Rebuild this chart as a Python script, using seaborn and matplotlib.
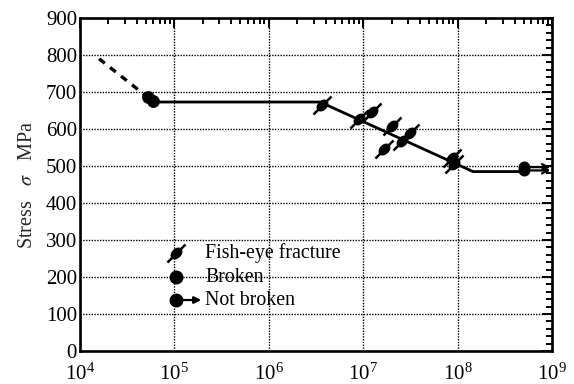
import numpy as np
import pandas as pd
import seaborn as sns
import matplotlib
matplotlib.use("Agg")
import matplotlib.pyplot as plt
from matplotlib.path import Path
from matplotlib.ticker import LogLocator, MultipleLocator, NullFormatter

# ---- data (cycles to failure N, stress in MPa) ----
dashed_N = [1.6e4, 5.0e4]
dashed_S = [790, 690]

curve_N = [7.0e4, 3.5e6, 1.45e8, 4.6e8]
curve_S = [673, 673, 485, 485]

fisheye_N = [3.7e6, 9.0e6, 1.25e7, 2.0e7, 1.65e7, 2.6e7, 3.1e7, 8.8e7, 9.2e7]
fisheye_S = [665, 627, 645, 608, 547, 567, 588, 522, 505]

broken_N = [5.3e4, 6.0e4]
broken_S = [686, 677]

runout_N = [5.0e8, 5.0e8]
runout_S = [497, 488]
runout_end = 9.6e8

xticks = [1e4, 1e5, 1e6, 1e7, 1e8, 1e9]
yticks = list(range(0, 901, 100))
legend_labels = ["Fish-eye fracture", "Broken", "Not broken"]

# ---- style ----
sns.set_theme(style="white")
plt.rcParams["font.family"] = ["Liberation Serif", "DejaVu Serif"]
plt.rcParams["mathtext.fontset"] = "stix"


def fisheye_marker():
    """Filled ellipse lying along the diagonal with a tail on each side."""
    t = np.linspace(0, 2 * np.pi, 40)
    a, b = 0.62, 0.40
    ex, ey = a * np.cos(t), b * np.sin(t)
    c = s = np.sqrt(0.5)
    vx, vy = ex * c - ey * s, ex * s + ey * c
    verts = list(zip(vx, vy))
    codes = [Path.MOVETO] + [Path.LINETO] * (len(verts) - 2) + [Path.CLOSEPOLY]
    verts += [(-1.0, -1.0), (1.0, 1.0)]
    codes += [Path.MOVETO, Path.LINETO]
    return Path(verts, codes)


FISH = fisheye_marker()

fig = plt.figure(figsize=(5.74, 3.84), dpi=100)
ax = fig.add_axes([0.139, 0.086, 0.823, 0.867])
ax.set_xscale("log")

# fitted S-N curve
sns.lineplot(x=dashed_N, y=dashed_S, ax=ax, color="black", lw=2.4,
             linestyle=(0, (2.2, 2.0)), sort=False, estimator=None)
sns.lineplot(x=curve_N, y=curve_S, ax=ax, color="black", lw=2.0,
             sort=False, estimator=None)

# specimens
sns.scatterplot(x=broken_N, y=broken_S, ax=ax, color="black", s=75,
                marker="o", edgecolor="black", linewidth=0.5, zorder=5)
sns.scatterplot(x=runout_N, y=runout_S, ax=ax, color="black", s=65,
                marker="o", edgecolor="black", linewidth=0.5, zorder=5)
for n, s in zip(runout_N, runout_S):
    ax.annotate("", xy=(runout_end, s), xytext=(n, s),
                arrowprops=dict(arrowstyle="->", lw=1.6, color="black",
                                shrinkA=0, shrinkB=0, mutation_scale=11))
ax.plot(fisheye_N, fisheye_S, ls="none", marker=FISH, markersize=13,
        color="black", markeredgewidth=1.8, zorder=6)

# axes
ax.set_xlim(1e4, 1e9)
ax.set_ylim(0, 900)
ax.set_xticks(xticks)
ax.set_yticks(yticks)
ax.xaxis.set_minor_locator(LogLocator(base=10, subs=np.arange(2, 10), numticks=20))
ax.xaxis.set_minor_formatter(NullFormatter())
ax.yaxis.set_minor_locator(MultipleLocator(20))
ax.tick_params(which="both", direction="in", top=True, right=True,
               colors="black", labelsize=15, width=1.4)
ax.tick_params(which="major", length=7)
ax.tick_params(which="minor", length=4)
ax.tick_params(axis="y", which="major", pad=2)
ax.tick_params(axis="x", which="major", pad=9)
for sp in ax.spines.values():
    sp.set_color("black")
    sp.set_linewidth(1.9)
ax.grid(True, which="major", color="black", linestyle=(0, (1, 1.0)), lw=1.0)
ax.set_axisbelow(True)
ax.set_ylabel(r"Stress   $\sigma$   MPa", fontsize=14.5, labelpad=6)
ax.set_xlabel("")

# key
tr = ax.transAxes
ky = [0.294, 0.222, 0.153]
kx, tx = 0.203, 0.265
ax.plot([kx], [ky[0]], transform=tr, marker=FISH, markersize=13, color="black",
        markeredgewidth=1.8, ls="none", clip_on=False)
ax.plot([kx], [ky[1]], transform=tr, marker="o", markersize=9, color="black",
        ls="none")
ax.plot([kx], [ky[2]], transform=tr, marker="o", markersize=9, color="black",
        ls="none")
ax.annotate("", xy=(kx + 0.054, ky[2]), xytext=(kx, ky[2]), xycoords=tr,
            textcoords=tr, arrowprops=dict(arrowstyle="-|>", lw=1.6,
                                           color="black", shrinkA=0, shrinkB=0,
                                           mutation_scale=10))
for y, lab in zip(ky, legend_labels):
    ax.text(tx, y, lab, transform=tr, fontsize=14.3, va="center", ha="left",
            color="black")

fig.savefig("out.png", dpi=100, facecolor="white")
